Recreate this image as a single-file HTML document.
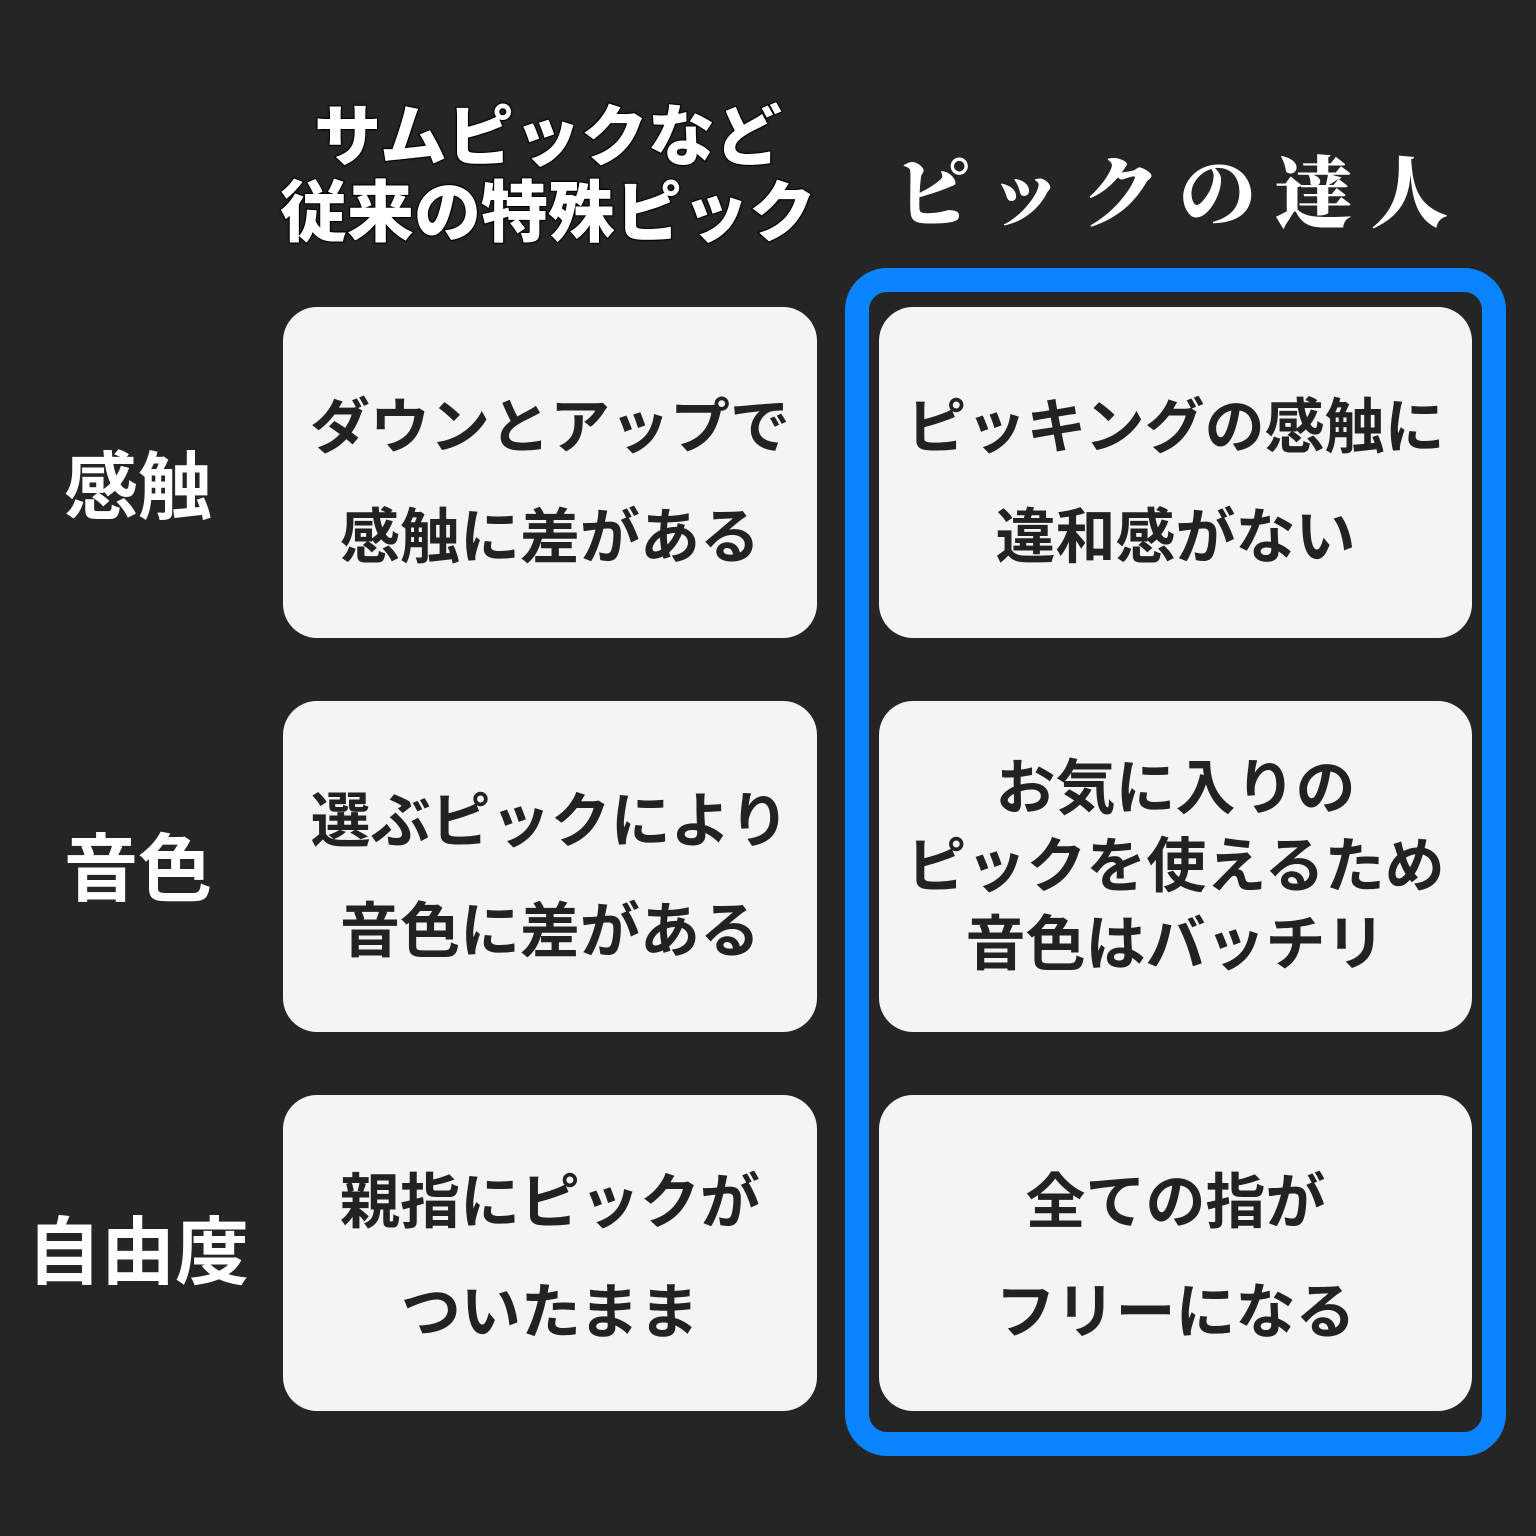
<!DOCTYPE html>
<html><head><meta charset="utf-8"><style>
body{margin:0;width:1536px;height:1536px;background:#262526;position:relative;overflow:hidden;font-family:"Liberation Sans","Noto Sans CJK JP",sans-serif;font-weight:bold}
.h{position:absolute;color:#fff;text-align:center;white-space:nowrap}
.box{position:absolute;background:#f4f4f4;border-radius:34px;display:flex;flex-direction:column;justify-content:center;align-items:center;text-align:center;color:#222;font-size:60px;white-space:nowrap}
.box span{display:block;text-align:center}
.blue{position:absolute;left:845px;top:268px;width:613px;height:1140px;border:24px solid #0a84ff;border-radius:42px}
.lab{position:absolute;color:#fff;font-size:74px;text-align:center;width:260px;left:8px}
</style></head><body>
<div class="h" style="left:248px;width:600px;top:100px;font-size:67px;line-height:76px;font-weight:900;-webkit-text-stroke:2px #000;paint-order:stroke fill;text-shadow:0 0 3px #000">サムピックなど<br>従来の特殊ピック</div>
<div class="h" style="left:880px;width:600px;top:132px;font-size:78px;letter-spacing:18px;font-family:'Noto Serif CJK SC','Noto Sans CJK JP',serif;font-weight:900">ピックの達人</div>
<div class="blue"></div>
<div class="lab" style="top:428px">感触</div>
<div class="lab" style="top:810px">音色</div>
<div class="lab" style="top:1193px">自由度</div>
<div class="box" style="left:283px;top:317px;width:534px;height:331px;line-height:110px"><span>ダウンとアップで<br>感触に差がある</span></div>
<div class="box" style="left:283px;top:711px;width:534px;height:331px;line-height:110px"><span>選ぶピックにより<br>音色に差がある</span></div>
<div class="box" style="left:283px;top:1095px;width:534px;height:316px;line-height:110px;padding-top:10px;box-sizing:border-box"><span>親指にピックが<br>ついたまま</span></div>
<div class="box" style="left:879px;top:317px;width:593px;height:331px;line-height:110px"><span>ピッキングの感触に<br>違和感がない</span></div>
<div class="box" style="left:879px;top:701px;width:593px;height:331px;line-height:78px"><span>お気に入りの<br>ピックを使えるため<br>音色はバッチリ</span></div>
<div class="box" style="left:879px;top:1095px;width:593px;height:316px;line-height:110px;padding-top:10px;box-sizing:border-box"><span>全ての指が<br>フリーになる</span></div>
<style>.box[style*="top:317px"],.box[style*="top:711px"]{margin-top:-10px;padding-top:20px;box-sizing:border-box}</style>
</body></html>
